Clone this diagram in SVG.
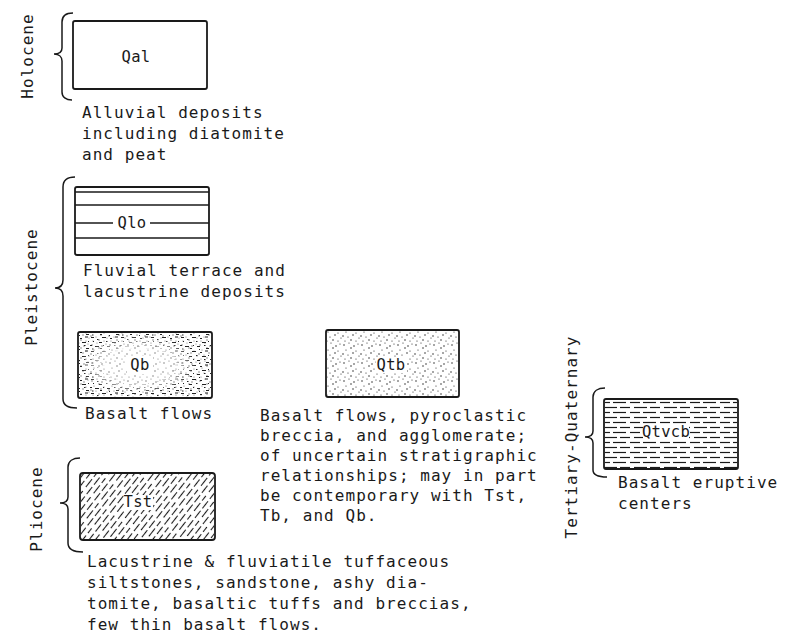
<svg xmlns="http://www.w3.org/2000/svg" width="793" height="637" viewBox="0 0 793 637">
<style>
.t{font-family:"DejaVu Sans Mono","Liberation Mono",monospace;font-size:16px;letter-spacing:1.05px;fill:#1a1a1a}
.lb{font-family:"DejaVu Sans Mono","Liberation Mono",monospace;font-size:15.5px;letter-spacing:0.3px;fill:#1a1a1a;text-anchor:middle}
.v{font-family:"DejaVu Sans Mono","Liberation Mono",monospace;font-size:16px;letter-spacing:1.05px;fill:#1a1a1a;text-anchor:middle}
.box{fill:none;stroke:#1a1a1a;stroke-width:1.8}
.br{fill:none;stroke:#1a1a1a;stroke-width:1.5}
.ln{stroke:#1a1a1a;stroke-width:1.3}
</style>
<defs>
<pattern id="dots" width="18" height="18" patternUnits="userSpaceOnUse">
<g fill="#222">
<circle cx="2" cy="3" r="0.75"/><circle cx="7" cy="1" r="0.6"/><circle cx="12" cy="4" r="0.75"/><circle cx="16" cy="2" r="0.6"/>
<circle cx="4" cy="8" r="0.6"/><circle cx="9" cy="6" r="0.75"/><circle cx="14" cy="9" r="0.6"/><circle cx="1" cy="12" r="0.75"/>
<circle cx="6" cy="13" r="0.6"/><circle cx="11" cy="11" r="0.75"/><circle cx="17" cy="14" r="0.6"/><circle cx="3" cy="17" r="0.6"/>
<circle cx="9" cy="16" r="0.75"/><circle cx="14" cy="17" r="0.6"/>
</g>
</pattern>
<pattern id="speck" width="30" height="14" patternUnits="userSpaceOnUse">
<g fill="#222">
<rect x="1" y="1" width="3" height="1"/><rect x="7" y="3" width="1.5" height="1"/><rect x="12" y="1" width="4" height="1"/><rect x="20" y="2" width="2" height="1"/><rect x="25" y="0.5" width="3" height="1"/>
<rect x="3" y="5" width="1" height="1"/><rect x="9" y="6" width="3" height="1"/><rect x="16" y="5" width="1.5" height="1"/><rect x="22" y="6" width="4" height="1"/><rect x="28" y="5" width="1" height="1"/>
<rect x="0" y="9" width="2" height="1"/><rect x="5" y="10" width="4" height="1"/><rect x="13" y="9" width="1" height="1"/><rect x="17" y="10" width="3" height="1"/><rect x="24" y="9" width="1.5" height="1"/>
<rect x="2" y="12.5" width="1.5" height="1"/><rect x="10" y="12" width="2" height="1"/><rect x="19" y="13" width="1" height="1"/><rect x="26" y="12" width="3" height="1"/>
</g>
</pattern>
<radialGradient id="fade" cx="0.45" cy="0.5" r="0.55">
<stop offset="0" stop-color="#000"/><stop offset="0.45" stop-color="#000"/><stop offset="0.8" stop-color="#fff"/><stop offset="1" stop-color="#fff"/>
</radialGradient>
<mask id="qbmask" maskUnits="userSpaceOnUse" x="78" y="332" width="134" height="66">
<rect x="78" y="332" width="134" height="66" fill="url(#fade)"/>
</mask>
<pattern id="dash2" width="30" height="10" patternUnits="userSpaceOnUse">
<g stroke="#1a1a1a" stroke-width="1.2">
<line x1="0" y1="2.5" x2="10" y2="2.5"/><line x1="13" y1="2.5" x2="26" y2="2.5"/>
<line x1="4" y1="7.5" x2="17" y2="7.5"/><line x1="20" y1="7.5" x2="30" y2="7.5"/>
</g>
</pattern>
<pattern id="hatch" width="24" height="10" patternUnits="userSpaceOnUse" patternTransform="rotate(-52)">
<g stroke="#1a1a1a" stroke-width="1.1">
<line x1="0" y1="2.5" x2="9" y2="2.5"/><line x1="12" y1="2.5" x2="21" y2="2.5"/>
<line x1="5" y1="7.5" x2="15" y2="7.5"/><line x1="18" y1="7.5" x2="24" y2="7.5"/>
</g>
</pattern>
</defs>

<g id="braces">
<path class="br" d="M73,13 C66,13 62,16 62,22 L62,48 C62,52 59,54 54,54 C59,54 62,57 62,61 L62,92 C62,97 66,100 72,100"/>
<path class="br" d="M75,177 C68,177 63,180 63,187 L63,280 C63,285 60,288 55,288 C60,288 63,291 63,296 L63,399 C63,405 68,408 77,408"/>
<path class="br" d="M80,458 C73,458 68,461 68,467 L68,497 C68,501 65,503 60,503 C65,503 68,505 68,509 L68,543 C68,549 73,552 83,552"/>
<path class="br" d="M605,388 C598,388 593,391 593,397 L593,431 C593,435 590,437 585,437 C590,437 593,439 593,443 L593,470 C593,475 598,477 607,477"/>
</g>

<g id="period-labels">
<text class="v" transform="translate(33,56) rotate(-90)">Holocene</text>
<text class="v" transform="translate(37,287) rotate(-90)">Pleistocene</text>
<text class="v" transform="translate(42,509) rotate(-90)">Pliocene</text>
<text class="v" transform="translate(577,437) rotate(-90)">Tertiary-Quaternary</text>
</g>

<g id="Qal">
<rect class="box" x="73" y="21" width="134" height="68" rx="2"/>
<text class="lb" x="136" y="62">Qal</text>
<text class="t" x="82" y="118">Alluvial deposits</text>
<text class="t" x="82" y="139">including diatomite</text>
<text class="t" x="82" y="160">and peat</text>
</g>

<g id="Qlo">
<line class="ln" x1="75" y1="192" x2="209" y2="192"/>
<line class="ln" x1="75" y1="205" x2="209" y2="205"/>
<line class="ln" x1="75" y1="223" x2="113" y2="223"/>
<line class="ln" x1="150" y1="223" x2="209" y2="223"/>
<line class="ln" x1="75" y1="238" x2="209" y2="238"/>
<rect class="box" x="75" y="187" width="134" height="68" rx="2"/>
<text class="lb" x="132" y="228">Qlo</text>
<text class="t" x="83" y="276">Fluvial terrace and</text>
<text class="t" x="83" y="297">lacustrine deposits</text>
</g>

<g id="Qb">
<rect x="79" y="333" width="132" height="64" fill="url(#speck)" mask="url(#qbmask)"/>
<rect x="79" y="333" width="132" height="64" fill="url(#dots)" opacity="0.6"/>
<rect x="127" y="356" width="26" height="18" fill="#fff"/>
<rect class="box" x="78" y="332" width="134" height="66" rx="2"/>
<text class="lb" x="140" y="370">Qb</text>
<text class="t" x="85" y="419">Basalt flows</text>
</g>

<g id="Qtb">
<rect x="327" y="331" width="131" height="65" fill="url(#dots)"/>
<rect x="376" y="357" width="31" height="16" fill="#fff"/>
<rect class="box" x="326" y="330" width="133" height="67" rx="2"/>
<text class="lb" x="391" y="370">Qtb</text>
<text class="t" x="260" y="421">Basalt flows, pyroclastic</text>
<text class="t" x="260" y="441">breccia, and agglomerate;</text>
<text class="t" x="260" y="461">of uncertain stratigraphic</text>
<text class="t" x="260" y="481">relationships; may in part</text>
<text class="t" x="260" y="501">be contemporary with Tst,</text>
<text class="t" x="260" y="521">Tb, and Qb.</text>
</g>

<g id="Qtvcb">
<rect x="605" y="400" width="132" height="68" fill="url(#dash2)"/>
<rect x="643" y="426" width="46" height="14" fill="#fff"/>
<rect class="box" x="604" y="399" width="134" height="70" rx="2"/>
<text class="lb" x="666" y="437">Qtvcb</text>
<text class="t" x="618" y="488">Basalt eruptive</text>
<text class="t" x="618" y="509">centers</text>
</g>

<g id="Tst">
<rect x="81" y="474" width="133" height="65" fill="url(#hatch)"/>
<rect x="125" y="495" width="28" height="15" fill="#fff"/>
<rect class="box" x="80" y="473" width="135" height="67" rx="3"/>
<text class="lb" x="138" y="507">Tst</text>
<text class="t" x="87" y="567">Lacustrine &amp; fluviatile tuffaceous</text>
<text class="t" x="87" y="588">siltstones, sandstone, ashy dia-</text>
<text class="t" x="87" y="609">tomite, basaltic tuffs and breccias,</text>
<text class="t" x="87" y="630">few thin basalt flows.</text>
</g>
</svg>
